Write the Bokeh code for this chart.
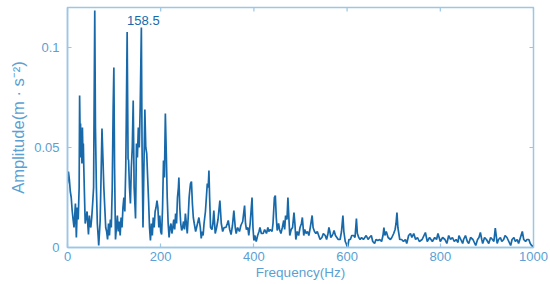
from bokeh.plotting import figure
from bokeh.models import Range1d, FixedTicker, ColumnDataSource
from bokeh.embed import file_html
from bokeh.resources import INLINE
from bokeh.core.properties import value

# ---- data ----
freq_0 = [0, 2, 4, 6, 8, 10, 12, 14, 16, 17, 19, 21, 23, 25, 26, 27, 28, 29, 30, 31, 32, 33, 34, 35, 36, 38,
          40, 42, 44, 45, 47, 48, 50, 52, 54, 56, 58.5, 60, 62, 64, 66, 67]
amp_0 = [.032, .038, .034, .028, .025, .0185, .014, .010, .018, .022, .005, .020, .014, .030, .076, .058, .062,
         .045, .055, .042, .060, .048, .052, .040, .030, .012, .015, .018, .010, .0065, .016, .012, .010, .015,
         .022, .030, .1185, .060, .030, .012, .005, .001]

freq_1 = [70, 72, 74, 76, 78, 80, 82, 84, 86, 88, 90, 92, 94, 96, 98, 99.5, 101, 103, 105, 107, 109, 111, 113,
          115, 117, 119, 121, 123, 125, 126, 128, 130]
amp_1 = [.013, .035, .0595, .045, .030, .020, .010, .008, .004, .012, .006, .014, .010, .030, .070, .090, .040,
         .004, .010, .016, .008, .013, .006, .015, .010, .020, .025, .018, .040, .060, .1077, .044]

freq_2 = [131, 133, 135, 137, 139, 141, 143, 145, 146, 148, 150, 152, 154, 156, 158.5, 160]
amp_2 = [.044, .030, .022, .040, .050, .0735, .030, .020, .0145, .052, .045, .060, .050, .070, .110, .050]

freq_3 = [162, 164, 166, 168, 170, 172, 174, 176, 178, 180, 182, 184, 186, 188, 190, 192, 194, 196, 198, 200,
          202, 204, 206, 208, 210, 212, 214, 216, 218, 220]
amp_3 = [.010, .040, .069, .050, .047, .035, .0235, .010, .0035, .012, .006, .015, .010, .018, .020, .0235,
         .020, .010, .016, .008, .0065, .020, .0435, .035, .067, .047, .025, .012, .005, .010]

freq_4 = [222, 224, 226, 228, 230, 232, 234, 236, 238, 239, 241, 243, 245, 247, 249, 251, 253, 255, 257, 259,
          261, 263, 264, 266, 268, 270, 272, 275, 278, 280, 282, 285, 287, 289, 291, 293, 296, 298, 300, 302,
          303.5, 305, 307]
amp_4 = [.012, .007, .010, .014, .009, .017, .012, .025, .030, .035, .020, .012, .0085, .010, .013, .009, .017,
         .012, .007, .015, .025, .030, .032, .033, .022, .015, .012, .008, .011, .013, .015, .010, .0045, .008,
         .006, .012, .018, .025, .032, .030, .0385, .025, .010]

freq_5 = [310, 312, 314, 317, 320, 323, 327, 330, 333, 336, 340, 343, 345, 348, 351, 354, 357, 360, 362, 365,
          369, 372, 376, 380, 382, 384, 387, 389, 392, 396, 398, 400, 402, 405, 408, 411, 413, 416, 420, 423,
          427, 430, 432, 435, 439, 441, 444, 446, 448, 450, 453, 455, 458, 461, 464, 466, 468, 471, 473, 475, 477]
amp_5 = [.009, .012, .0185, .007, .010, .014, .0235, .012, .008, .010, .010, .012, .0135, .009, .0065, .011,
         .0185, .010, .007, .010, .008, .011, .013, .021, .012, .009, .010, .006, .012, .025, .010, .0035, .006,
         .003, .006, .008, .010, .007, .007, .009, .007, .010, .008, .009, .008, .012, .025, .026, .015, .0085,
         .012, .009, .007, .010, .0135, .009, .016, .014, .025, .015, .006]

freq_6 = [480, 483, 486, 488, 490, 493, 496, 499, 502, 504, 507, 509, 512, 515, 518, 521, 523, 525, 527, 530,
          533, 536, 539, 542, 546, 549, 553, 556, 559, 561, 563, 565, 568, 570, 572, 575, 578, 581, 585, 588,
          591, 593, 596, 598, 601, 604, 607, 610, 614, 617, 620, 622, 625, 628, 631, 635, 638, 641, 645, 648,
          652, 655, 659, 662, 666, 670, 674, 677, 679, 681, 684, 688, 693, 696, 700, 703, 705, 707, 709, 711,
          713, 717, 721, 725, 728, 732, 736, 739]
amp_6 = [.009, .010, .0175, .012, .004, .008, .006, .010, .012, .015, .006, .009, .007, .008, .006, .010, .013,
         .016, .010, .008, .007, .008, .006, .004, .005, .007, .006, .004, .007, .010, .008, .005, .006, .007,
         .0085, .006, .005, .004, .004, .008, .016, .008, .003, .002, .000, .004, .004, .006, .006, .005,
         .0145, .007, .005, .004, .005, .004, .005, .006, .004, .005, .006, .003, .002, .004, .0035, .004, .003,
         .006, .010, .006, .008, .005, .004, .005, .007, .009, .012, .0175, .010, .007, .004, .004, .003,
         .004, .002, .006, .007, .005]

freq_7 = [743, 747, 751, 755, 761, 765, 768, 772, 777, 783, 788, 792, 795, 800, 805, 810, 814, 818, 822, 826,
          830, 834, 838, 840, 844, 848, 850, 854, 858, 861, 865, 870, 876, 880, 883, 886, 889, 891, 895, 899,
          904, 908, 912, 915, 918, 920, 922, 925, 929, 932, 936, 939, 943, 947, 951, 954, 958, 961, 965, 968,
          972, 976, 979, 983, 986, 990, 993, 996, 999, 1000]
amp_7 = [.007, .004, .005, .003, .004, .006, .0075, .003, .005, .003, .005, .004, .007, .003, .005, .004, .002,
         .006, .004, .005, .003, .004, .0025, .006, .004, .002, .004, .006, .003, .002, .005, .004, .001, .004,
         .005, .0075, .004, .002, .005, .004, .002, .005, .004, .003, .0097, .006, .002, .004, .005, .003, .004,
         .006, .005, .003, .001, .004, .005, .003, .004, .002, .005, .008, .004, .003, .004, .004, .002, .001,
         .0005, .001]

frequency = freq_0 + freq_1 + freq_2 + freq_3 + freq_4 + freq_5 + freq_6 + freq_7
amplitude = amp_0 + amp_1 + amp_2 + amp_3 + amp_4 + amp_5 + amp_6 + amp_7

x_ticks = [0, 200, 400, 600, 800, 1000]
y_ticks = [0, 0.05, 0.1]
peak_label = ["158.5"]
peak_x = [158.5]
peak_y = [0.110]

# ---- styling ----
LINE = "#1769aa"
AXIS = "#9cc6e4"
TEXT = "#5b9fd3"
FONT = "Liberation Sans"

X_MIN, X_MAX = 0, 1000
Y_MIN, Y_MAX = 0, 0.12
FW, FH = 466, 240
TICK_PX = 4

p = figure(width=550, height=284, output_backend="svg", toolbar_location=None,
           x_range=Range1d(X_MIN, X_MAX), y_range=Range1d(Y_MIN, Y_MAX),
           min_border_left=67, min_border_right=17, min_border_top=7, min_border_bottom=37,
           frame_width=FW, frame_height=FH)
p.background_fill_color = "white"
p.border_fill_color = "white"
p.grid.visible = False
p.outline_line_color = AXIS
p.outline_line_width = 1.5

p.line(frequency, amplitude, line_color=LINE, line_width=1.7)

src = ColumnDataSource(dict(x=peak_x, y=peak_y, t=peak_label))
p.text(x="x", y="y", text="t", source=src, text_font=value(FONT), text_font_size="13px",
       text_color=LINE, text_align="center", text_baseline="bottom", x_offset=2, y_offset=-3)

# mirrored inward ticks on top and right edges
dy = TICK_PX * (Y_MAX - Y_MIN) / FH
dx = TICK_PX * (X_MAX - X_MIN) / FW
p.segment(x0=x_ticks, y0=[Y_MAX] * len(x_ticks), x1=x_ticks, y1=[Y_MAX - dy] * len(x_ticks),
          line_color=AXIS, line_width=1.2)
p.segment(x0=[X_MAX] * len(y_ticks), y0=y_ticks, x1=[X_MAX - dx] * len(y_ticks), y1=y_ticks,
          line_color=AXIS, line_width=1.2)

for ax in (p.xaxis[0], p.yaxis[0]):
    ax.axis_line_color = AXIS
    ax.axis_line_width = 1.5
    ax.major_tick_line_color = AXIS
    ax.major_tick_line_width = 1.2
    ax.major_tick_in = TICK_PX
    ax.major_tick_out = 0
    ax.minor_tick_line_color = None
    ax.major_label_text_color = TEXT
    ax.major_label_text_font = FONT
    ax.major_label_text_font_size = "13px"
    ax.axis_label_text_color = TEXT
    ax.axis_label_text_font = FONT
    ax.axis_label_text_font_style = "normal"

p.xaxis[0].ticker = FixedTicker(ticks=x_ticks)
p.yaxis[0].ticker = FixedTicker(ticks=y_ticks)
p.xaxis[0].axis_label = "Frequency(Hz)"
p.yaxis[0].axis_label = "Amplitude(m · s⁻²)"
p.xaxis[0].axis_label_text_font_size = "13.5px"
p.yaxis[0].axis_label_text_font_size = "16.5px"
p.xaxis[0].major_label_standoff = 4
p.xaxis[0].axis_label_standoff = 1
p.yaxis[0].major_label_standoff = 8
p.yaxis[0].axis_label_standoff = 4
p.yaxis[0].major_label_overrides = {0: "0", 0.05: "0.05", 0.1: "0.1"}

open("out.html", "w").write(file_html(p, INLINE))
